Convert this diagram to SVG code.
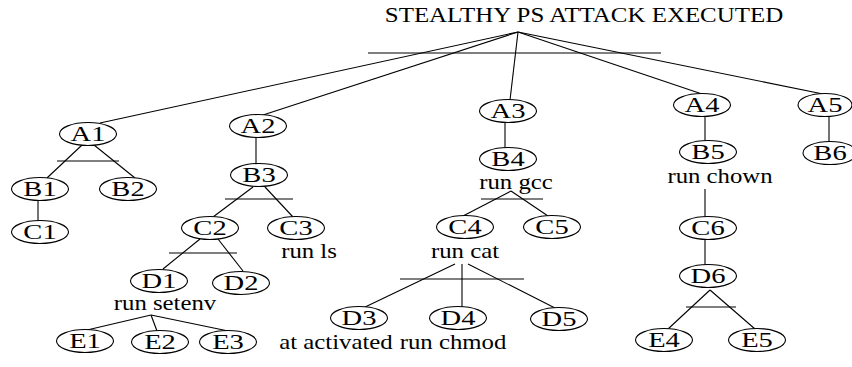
<svg xmlns="http://www.w3.org/2000/svg" width="852" height="367" viewBox="0 0 852 367">
  <style>
    .bg { fill: #ffffff; }
    .node ellipse { fill: #ffffff; stroke: #000000; stroke-width: 1.1; }
    .edges line { stroke: #000000; stroke-width: 1.1; }
    text { font-family: "Liberation Serif", "Times New Roman", serif; font-size: 21px; fill: #000000; text-anchor: middle; }
    .title { font-size: 21.5px; }
    .lbl { font-size: 21px; }
  </style>
  <rect class="bg" x="0" y="0" width="852" height="367"/>

  <!-- connectors -->
  <g id="connectors" class="edges">
    <!-- root to A-nodes, with AND bar -->
    <line x1="518" y1="32" x2="100" y2="123"/>
    <line x1="518" y1="32" x2="263" y2="115"/>
    <line x1="518" y1="32" x2="510" y2="100"/>
    <line x1="518" y1="32" x2="702" y2="94"/>
    <line x1="518" y1="32" x2="823" y2="94"/>
    <line x1="368" y1="53" x2="661" y2="53"/>
    <!-- A1 -->
    <line x1="82" y1="145" x2="47" y2="178"/>
    <line x1="94" y1="145" x2="135" y2="178"/>
    <line x1="57" y1="161" x2="119" y2="161"/>
    <line x1="38" y1="200" x2="38" y2="221"/>
    <!-- A2 -->
    <line x1="256" y1="137" x2="256" y2="164"/>
    <line x1="253" y1="187" x2="213" y2="217"/>
    <line x1="265" y1="187" x2="293" y2="217"/>
    <line x1="225" y1="199" x2="293" y2="199"/>
    <line x1="200" y1="239" x2="163" y2="269"/>
    <line x1="218" y1="239" x2="243" y2="271"/>
    <line x1="169" y1="253" x2="237" y2="253"/>
    <line x1="151" y1="315" x2="87" y2="330"/>
    <line x1="151" y1="315" x2="157" y2="331"/>
    <line x1="151" y1="315" x2="233" y2="332"/>
    <!-- A3 -->
    <line x1="505" y1="122" x2="505" y2="148"/>
    <line x1="511" y1="191" x2="463" y2="216"/>
    <line x1="511" y1="191" x2="548" y2="216"/>
    <line x1="481" y1="199" x2="543" y2="199"/>
    <line x1="455" y1="264" x2="363" y2="308"/>
    <line x1="462" y1="264" x2="462" y2="308"/>
    <line x1="468" y1="264" x2="555" y2="308"/>
    <line x1="400" y1="279" x2="524" y2="279"/>
    <!-- A4 -->
    <line x1="705" y1="116" x2="705" y2="141"/>
    <line x1="705" y1="189" x2="705" y2="217"/>
    <line x1="705" y1="239" x2="705" y2="265"/>
    <line x1="710" y1="290" x2="668" y2="329"/>
    <line x1="710" y1="290" x2="755" y2="329"/>
    <line x1="686" y1="307" x2="736" y2="307"/>
    <!-- A5 -->
    <line x1="829" y1="116" x2="829" y2="142"/>
  </g>

  <text class="title" transform="translate(584 22) scale(1.16 1)">STEALTHY PS ATTACK EXECUTED</text>

  <g id="A1" class="node"><ellipse cx="88" cy="134" rx="28.5" ry="11.5"/><text class="lbl" transform="translate(88 141) scale(1.36 1)">A1</text></g>
  <g id="A2" class="node"><ellipse cx="258" cy="126" rx="28.5" ry="11.5"/><text class="lbl" transform="translate(258 133) scale(1.36 1)">A2</text></g>
  <g id="A3" class="node"><ellipse cx="508" cy="111" rx="28.5" ry="11.5"/><text class="lbl" transform="translate(508 118) scale(1.36 1)">A3</text></g>
  <g id="A4" class="node"><ellipse cx="702" cy="105" rx="28.5" ry="11.5"/><text class="lbl" transform="translate(702 112) scale(1.36 1)">A4</text></g>
  <g id="A5" class="node"><ellipse cx="825" cy="105" rx="27" ry="11.5"/><text class="lbl" transform="translate(825 112) scale(1.36 1)">A5</text></g>

  <g id="B1" class="node"><ellipse cx="40" cy="189" rx="28.5" ry="11.5"/><text class="lbl" transform="translate(40 196) scale(1.36 1)">B1</text></g>
  <g id="B2" class="node"><ellipse cx="128" cy="189" rx="28.5" ry="11.5"/><text class="lbl" transform="translate(128 196) scale(1.36 1)">B2</text></g>
  <g id="B3" class="node"><ellipse cx="259" cy="175" rx="28.5" ry="11.5"/><text class="lbl" transform="translate(259 182) scale(1.36 1)">B3</text></g>
  <g id="B4" class="node"><ellipse cx="508" cy="159" rx="28.5" ry="11.5"/><text class="lbl" transform="translate(508 166) scale(1.36 1)">B4</text><text transform="translate(516 189) scale(1.18 1)">run gcc</text></g>
  <g id="B5" class="node"><ellipse cx="708" cy="152" rx="28.5" ry="11.5"/><text class="lbl" transform="translate(708 159) scale(1.36 1)">B5</text><text transform="translate(720 183) scale(1.18 1)">run chown</text></g>
  <g id="B6" class="node"><ellipse cx="830" cy="153" rx="27" ry="11.5"/><text class="lbl" transform="translate(830 160) scale(1.36 1)">B6</text></g>

  <g id="C1" class="node"><ellipse cx="40" cy="232" rx="28.5" ry="11.5"/><text class="lbl" transform="translate(40 239) scale(1.36 1)">C1</text></g>
  <g id="C2" class="node"><ellipse cx="210" cy="228" rx="28.5" ry="11.5"/><text class="lbl" transform="translate(210 235) scale(1.36 1)">C2</text></g>
  <g id="C3" class="node"><ellipse cx="296" cy="228" rx="28.5" ry="11.5"/><text class="lbl" transform="translate(296 235) scale(1.36 1)">C3</text><text transform="translate(309 258) scale(1.18 1)">run ls</text></g>
  <g id="C4" class="node"><ellipse cx="465" cy="227" rx="28.5" ry="11.5"/><text class="lbl" transform="translate(465 234) scale(1.36 1)">C4</text><text transform="translate(465 258) scale(1.18 1)">run cat</text></g>
  <g id="C5" class="node"><ellipse cx="552" cy="227" rx="28.5" ry="11.5"/><text class="lbl" transform="translate(552 234) scale(1.36 1)">C5</text></g>
  <g id="C6" class="node"><ellipse cx="708" cy="228" rx="28.5" ry="11.5"/><text class="lbl" transform="translate(708 235) scale(1.36 1)">C6</text></g>

  <g id="D1" class="node"><ellipse cx="159" cy="281" rx="28.5" ry="11.5"/><text class="lbl" transform="translate(159 287.5) scale(1.36 1)">D1</text><text transform="translate(165 310) scale(1.18 1)">run setenv</text></g>
  <g id="D2" class="node"><ellipse cx="241" cy="283" rx="28.5" ry="11.5"/><text class="lbl" transform="translate(241 290) scale(1.36 1)">D2</text></g>
  <g id="D3" class="node"><ellipse cx="359" cy="318" rx="28.5" ry="11.5"/><text class="lbl" transform="translate(359 325) scale(1.36 1)">D3</text><text transform="translate(336 348.5) scale(1.18 1)">at activated</text></g>
  <g id="D4" class="node"><ellipse cx="458" cy="318" rx="28.5" ry="11.5"/><text class="lbl" transform="translate(458 325) scale(1.36 1)">D4</text><text transform="translate(453 348.5) scale(1.18 1)">run chmod</text></g>
  <g id="D5" class="node"><ellipse cx="559" cy="319" rx="28.5" ry="11.5"/><text class="lbl" transform="translate(559 326) scale(1.36 1)">D5</text></g>
  <g id="D6" class="node"><ellipse cx="708" cy="276" rx="28.5" ry="11.5"/><text class="lbl" transform="translate(708 283) scale(1.36 1)">D6</text></g>

  <g id="E1" class="node"><ellipse cx="85" cy="341" rx="28.5" ry="11.5"/><text class="lbl" transform="translate(85 348) scale(1.36 1)">E1</text></g>
  <g id="E2" class="node"><ellipse cx="160" cy="342" rx="28.5" ry="11.5"/><text class="lbl" transform="translate(160 349) scale(1.36 1)">E2</text></g>
  <g id="E3" class="node"><ellipse cx="228" cy="342" rx="28.5" ry="11.5"/><text class="lbl" transform="translate(228 349) scale(1.36 1)">E3</text></g>
  <g id="E4" class="node"><ellipse cx="664" cy="340" rx="28.5" ry="11.5"/><text class="lbl" transform="translate(664 347) scale(1.36 1)">E4</text></g>
  <g id="E5" class="node"><ellipse cx="757" cy="340" rx="28.5" ry="11.5"/><text class="lbl" transform="translate(757 347) scale(1.36 1)">E5</text></g>
</svg>
